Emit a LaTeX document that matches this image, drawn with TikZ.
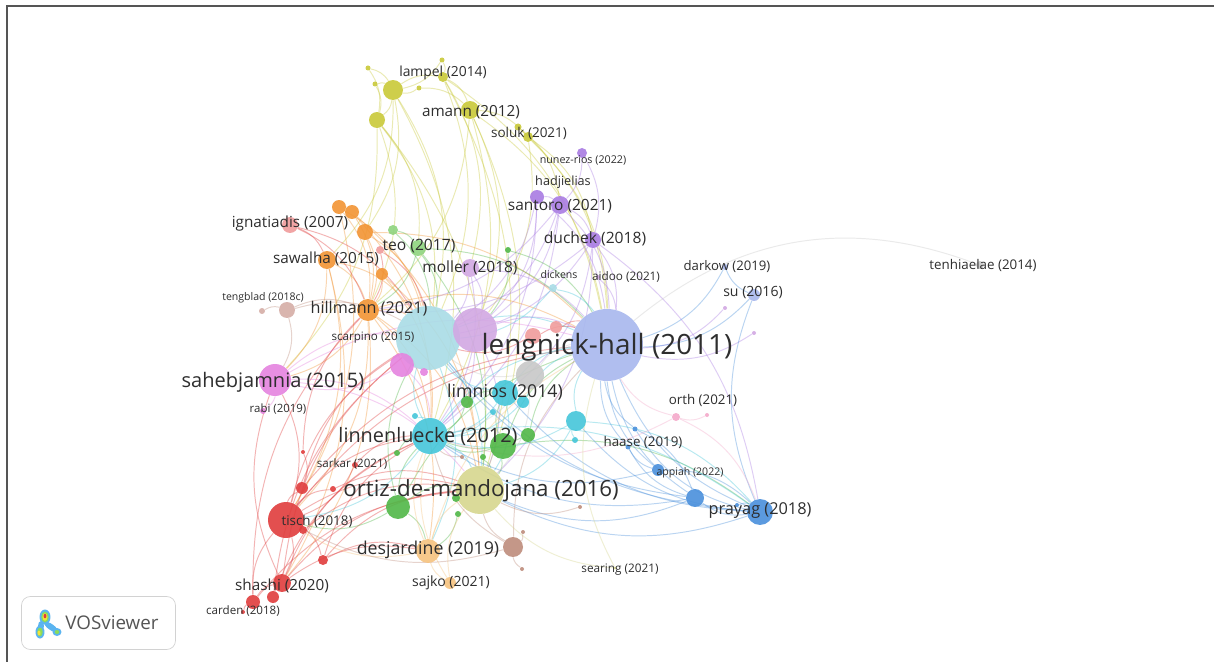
\documentclass[tikz,border=0pt]{standalone}
\usepackage{fontspec}
\setmainfont{Open Sans}
\usetikzlibrary{backgrounds}

\definecolor{yel}{HTML}{C9C938}
\definecolor{yelL}{HTML}{D6D68E}
\definecolor{pur}{HTML}{A97CE3}
\definecolor{purL}{HTML}{D2A8E3}
\definecolor{ora}{HTML}{F29433}
\definecolor{oraL}{HTML}{F6C37F}
\definecolor{red}{HTML}{E03C3C}
\definecolor{redL}{HTML}{F09C9C}
\definecolor{grn}{HTML}{50B747}
\definecolor{grnL}{HTML}{8ED47E}
\definecolor{cya}{HTML}{45C6DA}
\definecolor{cyaL}{HTML}{A9DCE6}
\definecolor{blu}{HTML}{4A90DC}
\definecolor{lav}{HTML}{A8B8EE}
\definecolor{mag}{HTML}{E583DF}
\definecolor{brn}{HTML}{BE8C7C}
\definecolor{brnL}{HTML}{D5ADA6}
\definecolor{pnk}{HTML}{F4A9CA}
\definecolor{gry}{HTML}{C8C8C8}
\definecolor{txt}{HTML}{2E2E2E}
\definecolor{frm}{HTML}{555555}
\definecolor{icb}{HTML}{5AB4F0}
\definecolor{icg}{HTML}{8CDC5A}
\definecolor{icy}{HTML}{F2E23C}

\tikzset{
  pub/.style={circle,inner sep=0pt,minimum size=#1*0.04cm,fill opacity=.9},
  lab/.style={font=\fontsize{#1pt}{#1pt}\selectfont,text=txt,inner sep=0pt},
  lnk/.style={draw=#1,draw opacity=.38,line width=.55pt},
}

\begin{document}
\begin{tikzpicture}[x=0.02cm,y=-0.02cm]
\useasboundingbox (0,0) rectangle (1214,662);

% publications
\foreach \n/\x/\y/\r/\c in {
  lampel/443/77/5/yel, y2/442/60/2.5/yel, y3/393/90/10/yel, y4/368/68/2.5/yel, y5/375/84/2.5/yel,
  y6/419/88/2.5/yel, y7/377/120/8/yel, amann/470/110/9/yel, y8/518/127/3.5/yel, soluk/528/137/5/yel,
  nunez/582/153/5/pur, hadj/537/197/7/pur, santoro/560/205/9/pur, duchek/593/240/8/pur,
  aidoo/598/277/2/purL, moller/470/268/9/purL,
  o1/339/207/7/ora, o2/352/212/7/ora, o3/365/232/8/ora, sawalha/327/260/9/ora, o4/382/274/6/ora,
  hillmann/368/310/11/ora,
  ignat/290/225/8/redL, teo/418/248/8/grnL, g1/393/230/5/grnL, p1/380/250/4/redL, g2/508/250/3/grn,
  dickens/553/288/4/cyaL, tengblad/287/310/8/brnL, t2/262/311/3/brnL,
  bigc/428/338/32/cyaL, bigp/475/330/22/purL, lh/607/345/36/lav, s1/533/336/8/redL, s2/556/327/6/redL,
  pm/402/365/12/mag, pm2/424/372/4/mag, saheb/275/380/16/mag, rabi/263/411/3/mag,
  gray/530/375/14/gry, limnios/505/393/13/cya, c2/523/402/6/cya, g3/467/402/6/grn, c3/576/421/10/cya,
  c4/575/440/3/cya, c5/415/416/3/cya, c6/493/412/3/cya,
  linn/430/436/18/cya, g4/503/446/13/grn, g5/528/435/7/grn, g6/397/453/3/grn, g10/483/457/3/grn,
  sarkar/355/465/3/red, ortiz/480/490/24/yelL, g7/398/507/12/grn, g8/456/498/4/grn, g9/458/514/3/grn,
  r1/302/488/6/red, r2/333/489/3/red, r7/303/452/2/red, tisch/286/520/18/red, r3/303/530/4/red,
  r4/323/560/5/red, shashi/282/583/9/red, r5/273/597/6/red, r6/253/602/7/red, carden/243/612/2/red,
  desj/428/551/12/oraL, brown/513/547/10/brn, b2/523/532/2/brn, b3/522/569/2/brn, b4/462/457/2/brn,
  b5/580/507/2/brn, sajko/450/583/6/oraL,
  h1/635/429/2.5/blu, h2/628/447/2.5/blu, appiah/658/470/6/blu, bl2/695/498/9/blu, prayag/760/512/13/blu,
  bl3/737/505/2/blu, orth/676/417/4/pnk, orth2/707/415/2/pnk, darkow/725/267/3/lav, su/754/295/6/lav,
  d1/725/308/2/purL, d2/754/333/2/purL, tenh/980/265/4/gry, searing/615/568/1.5/yelL}
  \node[pub=\r,fill=\c] (\n) at (\x,\y) {};

% citation links
\begin{scope}[on background layer]
\fill[white] (0,0) rectangle (1214,662);
\foreach \a/\b in {y2/y3, y4/y7, y5/y7, y3/y7, y3/lampel, y6/amann, lampel/amann, y7/bigc, y7/hillmann,
  y7/ortiz, y3/bigc, y3/linn, amann/bigp, amann/lh, amann/ortiz, amann/hillmann, lampel/bigc,
  lampel/moller, soluk/lh, soluk/bigp, y8/santoro, y3/sawalha, y7/teo, lampel/ortiz, y6/y3, y4/y3,
  amann/soluk, soluk/duchek, y8/lh, y3/o3, y7/saheb, lampel/lh, amann/linn, y2/lampel, y5/y3}
  \draw[lnk=yel] (\a) to[bend left=22] (\b);
\foreach \a/\b in {nunez/santoro, hadj/santoro, santoro/duchek, santoro/lh, santoro/bigc, santoro/bigp,
  duchek/lh, duchek/bigc, duchek/limnios, duchek/ortiz, hadj/bigp, hadj/bigc, moller/bigc, moller/lh,
  moller/bigp, aidoo/lh, santoro/hillmann, duchek/prayag, nunez/duchek, hadj/linn, moller/linn,
  bigp/lh, bigp/ortiz, bigp/linn, d1/lh, d2/lh, santoro/linn, duchek/hillmann, hadj/lh}
  \draw[lnk=pur] (\a) to[bend left=22] (\b);
\foreach \a/\b in {o1/o2, o1/hillmann, o2/hillmann, o3/hillmann, sawalha/hillmann, o4/hillmann,
  hillmann/bigc, hillmann/tisch, hillmann/ortiz, hillmann/linn, hillmann/saheb, sawalha/bigc, o3/bigc,
  o1/bigc, o2/ortiz, sawalha/tisch, hillmann/shashi, o4/linn, o3/lh, o4/ortiz, sawalha/saheb,
  hillmann/desj, o1/tisch, hillmann/lh, o2/linn, sawalha/shashi}
  \draw[lnk=ora] (\a) to[bend left=22] (\b);
\foreach \a/\b in {tisch/bigc, tisch/ortiz, tisch/linn, tisch/r1, tisch/r2, tisch/r3, tisch/r4,
  tisch/shashi, shashi/bigc, shashi/ortiz, r5/shashi, r6/tisch, r6/shashi, carden/r6, r1/bigc, r4/ortiz,
  r4/linn, r1/lh, sarkar/linn, sarkar/tisch, r2/ortiz, saheb/tisch, r6/hillmann, shashi/saheb, r7/r1,
  r7/hillmann, r5/linn, r3/ortiz, ignat/hillmann, ignat/sawalha, ignat/bigc, s1/lh, s2/lh, s1/bigc,
  p1/hillmann, p1/bigc, r4/desj, tisch/lh, shashi/desj, r5/bigc, r6/ortiz, shashi/linn}
  \draw[lnk=red] (\a) to[bend left=22] (\b);
\foreach \a/\b in {teo/bigc, teo/lh, g1/teo, teo/hillmann, g4/lh, g4/linn, g4/ortiz, g5/lh, g3/limnios,
  g7/ortiz, g7/linn, g7/tisch, g7/lh, g8/ortiz, g2/lh, g6/linn, g10/ortiz, g9/desj, g1/bigc, g3/linn,
  g5/linn, g4/limnios, g7/desj, g2/bigp, teo/ortiz, g4/prayag, g7/bigc}
  \draw[lnk=grn] (\a) to[bend left=22] (\b);
\foreach \a/\b in {linn/lh, linn/bigc, linn/ortiz, limnios/lh, limnios/bigc, limnios/linn, c2/lh, c3/lh,
  c3/linn, c4/c3, dickens/lh, c5/linn, bigc/lh, bigc/bigp, bigc/ortiz, c3/prayag, linn/prayag, c6/linn,
  limnios/ortiz, c3/ortiz, dickens/bigc, c2/linn, linn/tisch, bigc/desj}
  \draw[lnk=cya] (\a) to[bend left=22] (\b);
\foreach \a/\b in {prayag/lh, prayag/bl2, bl2/lh, appiah/lh, appiah/prayag, h1/lh, h2/lh, prayag/ortiz,
  bl2/linn, prayag/h1, bl2/h2, appiah/linn, bl3/prayag, su/lh, darkow/lh, prayag/su, prayag/limnios,
  h1/bl2, appiah/h2, bl2/ortiz, prayag/c3, su/darkow, prayag/bigc, bl2/bigc}
  \draw[lnk=blu] (\a) to[bend left=22] (\b);
\foreach \a/\b in {pm/bigc, pm/saheb, pm2/bigc, saheb/bigc, saheb/rabi, saheb/ortiz, saheb/lh,
  saheb/linn, pm/linn}
  \draw[lnk=mag] (\a) to[bend left=22] (\b);
\foreach \a/\b in {gray/lh, gray/bigc, gray/ortiz, gray/linn}
  \draw[lnk=gry] (\a) to[bend left=22] (\b);
\foreach \a/\b in {orth/lh, orth2/orth, orth/prayag, orth/linn}
  \draw[lnk=pnk] (\a) to[bend left=22] (\b);
\foreach \a/\b in {desj/ortiz, desj/linn, desj/lh, desj/tisch, sajko/desj, sajko/ortiz, sajko/linn}
  \draw[lnk=oraL] (\a) to[bend left=22] (\b);
\foreach \a/\b in {brown/ortiz, brown/lh, brown/linn, b2/brown, b3/brown, tengblad/hillmann, t2/tengblad,
  tengblad/bigc, tengblad/saheb, b4/linn, b5/ortiz, brown/tisch}
  \draw[lnk=brn] (\a) to[bend left=22] (\b);
\foreach \a/\b in {searing/lh, searing/ortiz}
  \draw[lnk=yelL] (\a) to[bend left=22] (\b);
\draw[lnk=gry] (tenh) to[bend right=30] (lh);
\end{scope}

% labels
\foreach \n/\x/\y/\s/\t in {
  lampel/443/73/7.9/lampel (2014), amann/471/112/8.7/amann (2012), soluk/529/133/7.7/soluk (2021),
  nunez/583/160/6.1/nunez-rios (2022), hadj/563/182/7.2/hadjielias, santoro/560/206/8.8/santoro (2021),
  ignat/290/224/8.7/ignatiadis (2007), duchek/595/239/8.9/duchek (2018), teo/419/246/8.9/teo (2017),
  sawalha/326/259/8.7/sawalha (2015), moller/470/268/8.8/moller (2018), dickens/559/275/6/dickens,
  aidoo/626/277/6.7/aidoo (2021), tengblad/263/298/6/tengblad (2018c), hillmann/369/309/9.2/hillmann (2021),
  darkow/727/267/7.5/darkow (2019), su/753/293/8/su (2016), tenh/983/265/7.6/tenhiaelae (2014),
  scarpino/373/338/6.6/scarpino (2015), lh/607/347/15.9/lengnick-hall (2011),
  saheb/273/382/11.4/sahebjamnia (2015), limnios/505/392/10.1/limnios (2014), orth/703/400/7.6/orth (2021),
  rabi/278/409/6.5/rabi (2019), linn/428/437/11.3/linnenluecke (2012), haase/643/442/7.6/haase (2019),
  sarkar/352/464/6.6/sarkar (2021), appiah/690/473/6/appiah (2022), ortiz/481/491/12.7/ortiz-de-mandojana (2016),
  prayag/760/511/9.3/prayag (2018), tisch/317/521/7.6/tisch (2018), desj/428/550/10.1/desjardine (2019),
  searing/620/570/6.7/searing (2021), sajko/451/583/8/sajko (2021), shashi/282/586/8.7/shashi (2020),
  carden/243/611/6.6/carden (2018)}
  \node[lab=\s] (\n-t) at (\x,\y) {\t};

% frame and logo
\draw[frm,line width=1.2pt] (7,662) -- (7,6) -- (1214,6);
\node[draw=gray!35,rounded corners=5pt,minimum width=3.08cm,minimum height=1.06cm] (logo) at (98.5,623) {};
\fill[icb] (45,617) ellipse (0.11cm and 0.15cm) (41,626) ellipse (0.06cm and 0.1cm)
  (40,632) ellipse (0.09cm and 0.13cm) (57,632) ellipse (0.09cm and 0.08cm);
\fill[icb,rotate around={-35:(51,627)}] (51,627) ellipse (0.16cm and 0.06cm);
\fill[icg] (45,617) ellipse (0.075cm and 0.11cm) (40,632) ellipse (0.055cm and 0.09cm)
  (57,632) ellipse (0.045cm and 0.04cm);
\fill[icy] (45,617) ellipse (0.05cm and 0.075cm) (39,633) ellipse (0.03cm and 0.05cm);
\fill[red] (45,616) ellipse (0.028cm and 0.045cm);
\node[font=\fontsize{10.7pt}{10.7pt}\selectfont,text=frm,anchor=west,inner sep=0pt] (logo-t) at (65,623) {VOSviewer};
\end{tikzpicture}
\end{document}
